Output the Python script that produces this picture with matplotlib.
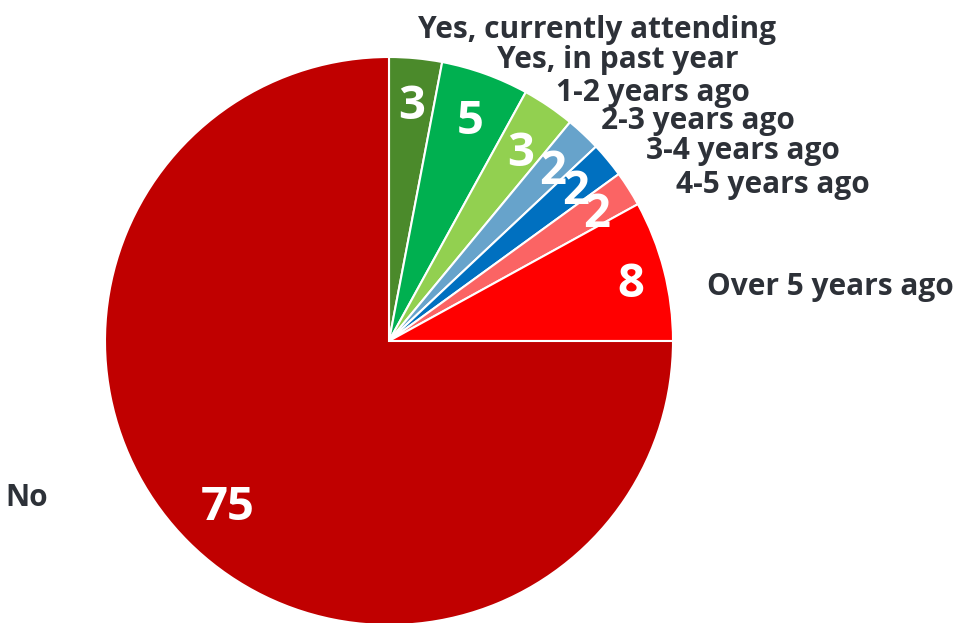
import numpy as np
import matplotlib
matplotlib.use("Agg")
import matplotlib.pyplot as plt

# Survey answers and their shares (percent)
categories = [
    "Yes, currently attending",
    "Yes, in past year",
    "1-2 years ago",
    "2-3 years ago",
    "3-4 years ago",
    "4-5 years ago",
    "Over 5 years ago",
    "No",
]
values = [3, 5, 3, 2, 2, 2, 8, 75]
colors = ["#4b8a2b", "#00b050", "#92d050", "#67a3cb",
          "#0070c0", "#fb6464", "#ff0000", "#c00000"]

# Radial placement of the value labels inside each slice (fraction of radius)
value_dist = [0.848, 0.842, 0.823, 0.843, 0.854, 0.867, 0.878, 0.803]

# Outer category label anchors (pie radius units) and their horizontal alignment
label_pos = [(0.102, 1.094), (0.380, 0.988), (0.588, 0.875), (0.746, 0.773),
             (0.905, 0.668), (1.011, 0.551), (1.120, 0.189), (-1.201, -0.554)]
label_ha = ["left"] * 7 + ["right"]

W, H = 957, 623
cx, cy, R = 389, 341, 284  # pie centre and radius in pixels
FONT = ["Open Sans", "DejaVu Sans"]

fig = plt.figure(figsize=(W / 100, H / 100), dpi=100)
ax = fig.add_axes([0, 0, 1, 1])

wedges, _, autotexts = ax.pie(
    values,
    colors=colors,
    startangle=90,
    counterclock=False,
    radius=1.0,
    autopct=lambda p: f"{p:.0f}",
    pctdistance=0.84,
    wedgeprops=dict(edgecolor="white", linewidth=1.5),
    textprops=dict(color="white", fontsize=34, fontweight="bold", family=FONT),
)

for w, t, d in zip(wedges, autotexts, value_dist):
    theta = np.deg2rad((w.theta1 + w.theta2) / 2)
    t.set_position((d * np.cos(theta), d * np.sin(theta)))
    t.set_va("center_baseline")

for (x, y), ha, name in zip(label_pos, label_ha, categories):
    ax.text(x, y, name, ha=ha, va="center", fontsize=21.5, fontweight="bold",
            color="#2d3138", family=FONT)

ax.set_aspect("auto")
ax.set_xlim(-cx / R, (W - cx) / R)
ax.set_ylim(-(H - cy) / R, cy / R)
ax.axis("off")

fig.savefig("out.png", dpi=100)
